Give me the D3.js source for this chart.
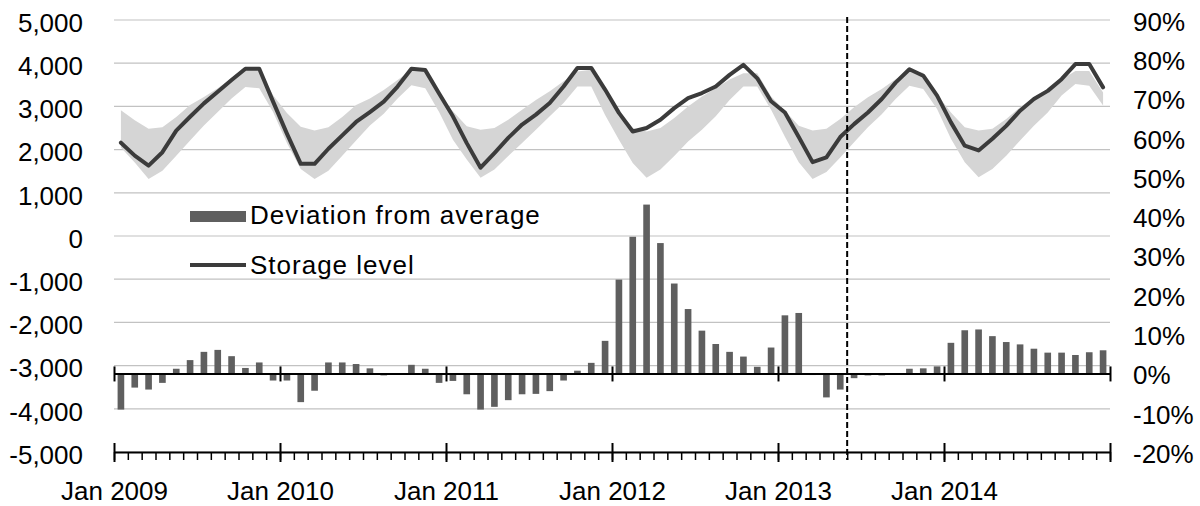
<!DOCTYPE html>
<html>
<head>
<meta charset="utf-8">
<script src="https://cdn.jsdelivr.net/npm/d3@7"></script>
<style>
  html, body { margin: 0; padding: 0; background: #fff; }
  svg { display: block; font-family: "Liberation Sans", Arial, sans-serif; }
</style>
</head>
<body>
<svg id="chart" width="1200" height="506"></svg>
<script>
// ---- data -------------------------------------------------------------
const months = d3.timeMonths(new Date(2009, 0, 1), new Date(2015, 0, 1)); // Jan 2009 .. Dec 2014

// Storage level (left axis)
const storageLevel = [
  2160, 1860, 1630, 1940, 2440, 2760, 3070, 3340, 3610, 3870, 3870, 3110,
  2370, 1670, 1670, 2020, 2330, 2640, 2870, 3110, 3460, 3870, 3840, 3300,
  2770, 2150, 1580, 1920, 2270, 2580, 2810, 3080, 3460, 3890, 3890, 3390,
  2850, 2420, 2500, 2690, 2960, 3190, 3310, 3460, 3730, 3960, 3650, 3120,
  2860, 2290, 1710, 1820, 2290, 2590, 2860, 3170, 3550, 3860, 3710, 3250,
  2630, 2090, 1980, 2250, 2550, 2900, 3170, 3360, 3630, 3980, 3980, 3440
];

// Historical range band (left axis): upper and lower bounds
const rangeHigh = [
  2910, 2680, 2480, 2520, 2755, 3030, 3220, 3420, 3650, 3840, 3880, 3260,
  2850, 2530, 2440, 2520, 2755, 3030, 3180, 3380, 3610, 3840, 3880, 3260,
  2885, 2540, 2460, 2500, 2690, 2920, 3150, 3350, 3580, 3810, 3850, 3310,
  2880, 2500, 2420, 2500, 2730, 3000, 3230, 3420, 3620, 3770, 3770, 3230,
  2900, 2550, 2440, 2480, 2710, 2980, 3210, 3400, 3630, 3820, 3780, 3280,
  2860, 2520, 2440, 2480, 2710, 2980, 3210, 3400, 3630, 3820, 3820, 3320
];
const rangeLow = [
  2050, 1700, 1320, 1510, 1860, 2210, 2560, 2870, 3180, 3450, 3420, 2870,
  2150, 1550, 1320, 1510, 1860, 2210, 2560, 2830, 3180, 3490, 3420, 2870,
  2230, 1770, 1350, 1540, 1850, 2150, 2460, 2770, 3080, 3460, 3460, 2800,
  2230, 1690, 1350, 1540, 1850, 2190, 2460, 2770, 3150, 3460, 3460, 2920,
  2300, 1710, 1320, 1480, 1820, 2170, 2520, 2820, 3170, 3480, 3400, 2940,
  2250, 1710, 1360, 1550, 1860, 2210, 2550, 2860, 3250, 3520, 3480, 3020
];

// Deviation from average, % (right axis)
const deviationPct = [
  -9.2, -3.6, -4.1, -2.4,  1.2,  3.4,  5.5,  6.0,  4.4,  1.4,  2.8, -1.8,
  -1.8, -7.3, -4.4,  2.8,  2.8,  2.4,  1.3, -0.5, -0.2,  2.2,  1.2, -2.4,
  -1.9, -5.3, -9.2, -8.5, -6.8, -5.3, -5.2, -4.5, -1.8,  0.7,  2.7,  8.3,
  23.9, 34.8, 43.0, 33.2, 22.9, 16.4, 10.9,  7.5,  5.5,  4.3,  1.7,  6.6,
  14.8, 15.4, -0.4, -6.1, -4.1, -1.2, -0.5, -0.5, -0.1,  1.2,  1.3,  1.8,
   7.8, 11.0, 11.2,  9.5,  8.0,  7.4,  6.3,  5.3,  5.3,  4.7,  5.4,  5.9
];

const leftTicks  = d3.range(-5000, 5001, 1000);
const rightTicks = d3.range(-20, 91, 10);
const yearLabels = ["Jan 2009", "Jan 2010", "Jan 2011", "Jan 2012", "Jan 2013", "Jan 2014"];
const dividerMonth = new Date(2013, 5, 1);   // start of June 2013
const legendLabels = ["Deviation from average", "Storage level"];

// ---- layout & scales --------------------------------------------------
const svg = d3.select("#chart");
const plot = { left: 114, right: 1110, top: 20, bottom: 452 };

const fmt = d3.formatLocale({ decimal: ".", thousands: ",", grouping: [3], currency: ["", ""], minus: "-" });
const fmtThousands = fmt.format(",");

const x = d3.scaleBand()
  .domain(months)
  .range([plot.left, plot.right])
  .paddingInner(0.52)
  .paddingOuter(0.26);
const xIdx = d3.scaleLinear().domain([0, months.length]).range([plot.left, plot.right]);
const yL = d3.scaleLinear().domain([-5000, 5000]).range([plot.bottom, plot.top]);
const yR = d3.scaleLinear().domain([-20, 90]).range([plot.bottom, plot.top]);
const cx = i => x(months[i]) + x.bandwidth() / 2;

// ---- gridlines ----------------------------------------------------------
svg.append("g")
  .selectAll("line")
  .data(leftTicks)
  .join("line")
  .attr("x1", plot.left).attr("x2", plot.right)
  .attr("y1", d => yL(d)).attr("y2", d => yL(d))
  .attr("stroke", "#c2c2c2").attr("stroke-width", 1.2);

// ---- range band ---------------------------------------------------------
const band = d3.area()
  .x((d, i) => cx(i))
  .y0((d, i) => yL(rangeLow[i]))
  .y1((d, i) => yL(rangeHigh[i]));
svg.append("path")
  .datum(months)
  .attr("d", band)
  .attr("fill", "#d5d5d5");

// ---- deviation bars -----------------------------------------------------
svg.append("g")
  .selectAll("rect")
  .data(deviationPct)
  .join("rect")
  .attr("x", (d, i) => x(months[i]))
  .attr("width", x.bandwidth())
  .attr("y", d => Math.min(yR(d), yR(0)))
  .attr("height", d => Math.abs(yR(d) - yR(0)))
  .attr("fill", "#5f5f5f");

// ---- storage line -------------------------------------------------------
const line = d3.line()
  .x((d, i) => cx(i))
  .y(d => yL(d));
svg.append("path")
  .datum(storageLevel)
  .attr("d", line)
  .attr("fill", "none")
  .attr("stroke", "#3b3b3b")
  .attr("stroke-width", 4)
  .attr("stroke-linejoin", "round")
  .attr("stroke-linecap", "round");

// ---- zero line for deviation (right axis 0%) ---------------------------
const zeroAxis = svg.append("g")
  .attr("transform", `translate(0,${yR(0)})`)
  .call(d3.axisBottom(xIdx)
    .tickValues(d3.range(0, months.length + 1, 12))
    .tickSizeOuter(0)
    .tickFormat(""));
zeroAxis.select(".domain").attr("stroke", "#000").attr("stroke-width", 2);
zeroAxis.selectAll(".tick line").attr("y1", -7).attr("y2", 8).attr("stroke", "#000").attr("stroke-width", 2);

// ---- bottom time axis ---------------------------------------------------
const minorAxis = svg.append("g")
  .attr("transform", `translate(0,${plot.bottom})`)
  .call(d3.axisBottom(xIdx)
    .tickValues(d3.range(0, months.length + 1))
    .tickSize(8)
    .tickSizeOuter(0)
    .tickFormat(""));
minorAxis.select(".domain").attr("stroke", "#000").attr("stroke-width", 2);
minorAxis.selectAll(".tick line").attr("stroke", "#000").attr("stroke-width", 1.5);

const majorAxis = svg.append("g")
  .attr("transform", `translate(0,${plot.bottom})`)
  .call(d3.axisBottom(xIdx)
    .tickValues(d3.range(0, months.length + 1, 12))
    .tickSizeOuter(0)
    .tickFormat((d, i) => yearLabels[i] || ""));
majorAxis.select(".domain").remove();
majorAxis.selectAll(".tick line").attr("y1", -9).attr("y2", 10).attr("stroke", "#000").attr("stroke-width", 2);
majorAxis.selectAll(".tick text")
  .attr("y", 48).attr("dy", 0)
  .attr("fill", "#000")
  .style("font-size", "26px")
  .style("font-family", "'Liberation Sans', Arial, sans-serif");

// ---- left axis ----------------------------------------------------------
const leftAxis = svg.append("g")
  .attr("transform", "translate(83,3)")
  .call(d3.axisLeft(yL).tickValues(leftTicks).tickSize(0).tickPadding(0).tickFormat(fmtThousands));
leftAxis.select(".domain").remove();
leftAxis.selectAll("text")
  .attr("fill", "#000")
  .style("font-size", "26px")
  .style("font-family", "'Liberation Sans', Arial, sans-serif");

// ---- right axis ---------------------------------------------------------
const rightAxis = svg.append("g")
  .attr("transform", "translate(1133,2)")
  .call(d3.axisRight(yR).tickValues(rightTicks).tickSize(0).tickPadding(0).tickFormat(d => fmt.format("d")(d) + "%"));
rightAxis.select(".domain").remove();
rightAxis.selectAll("text")
  .attr("fill", "#000")
  .style("font-size", "26px")
  .style("font-family", "'Liberation Sans', Arial, sans-serif");

// ---- dashed divider -----------------------------------------------------
const divX = xIdx(d3.timeMonth.count(months[0], dividerMonth));
svg.append("line")
  .attr("x1", divX).attr("x2", divX)
  .attr("y1", plot.top - 3).attr("y2", plot.bottom + 8)
  .attr("stroke", "#000")
  .attr("stroke-width", 2)
  .attr("stroke-dasharray", "6,3");

// ---- legend -------------------------------------------------------------
const legend = svg.append("g").attr("transform", "translate(190,0)");
legend.append("rect")
  .attr("x", 0).attr("y", 211).attr("width", 56).attr("height", 11)
  .attr("fill", "#5f5f5f");
legend.append("line")
  .attr("x1", 0).attr("x2", 56).attr("y1", 265).attr("y2", 265)
  .attr("stroke", "#3b3b3b").attr("stroke-width", 4);
legend.selectAll("text")
  .data(legendLabels)
  .join("text")
  .attr("x", 60)
  .attr("y", (d, i) => [224, 274][i])
  .attr("fill", "#000")
  .style("font-size", "26px")
  .style("letter-spacing", "1px")
  .text(d => d);
</script>
</body>
</html>
